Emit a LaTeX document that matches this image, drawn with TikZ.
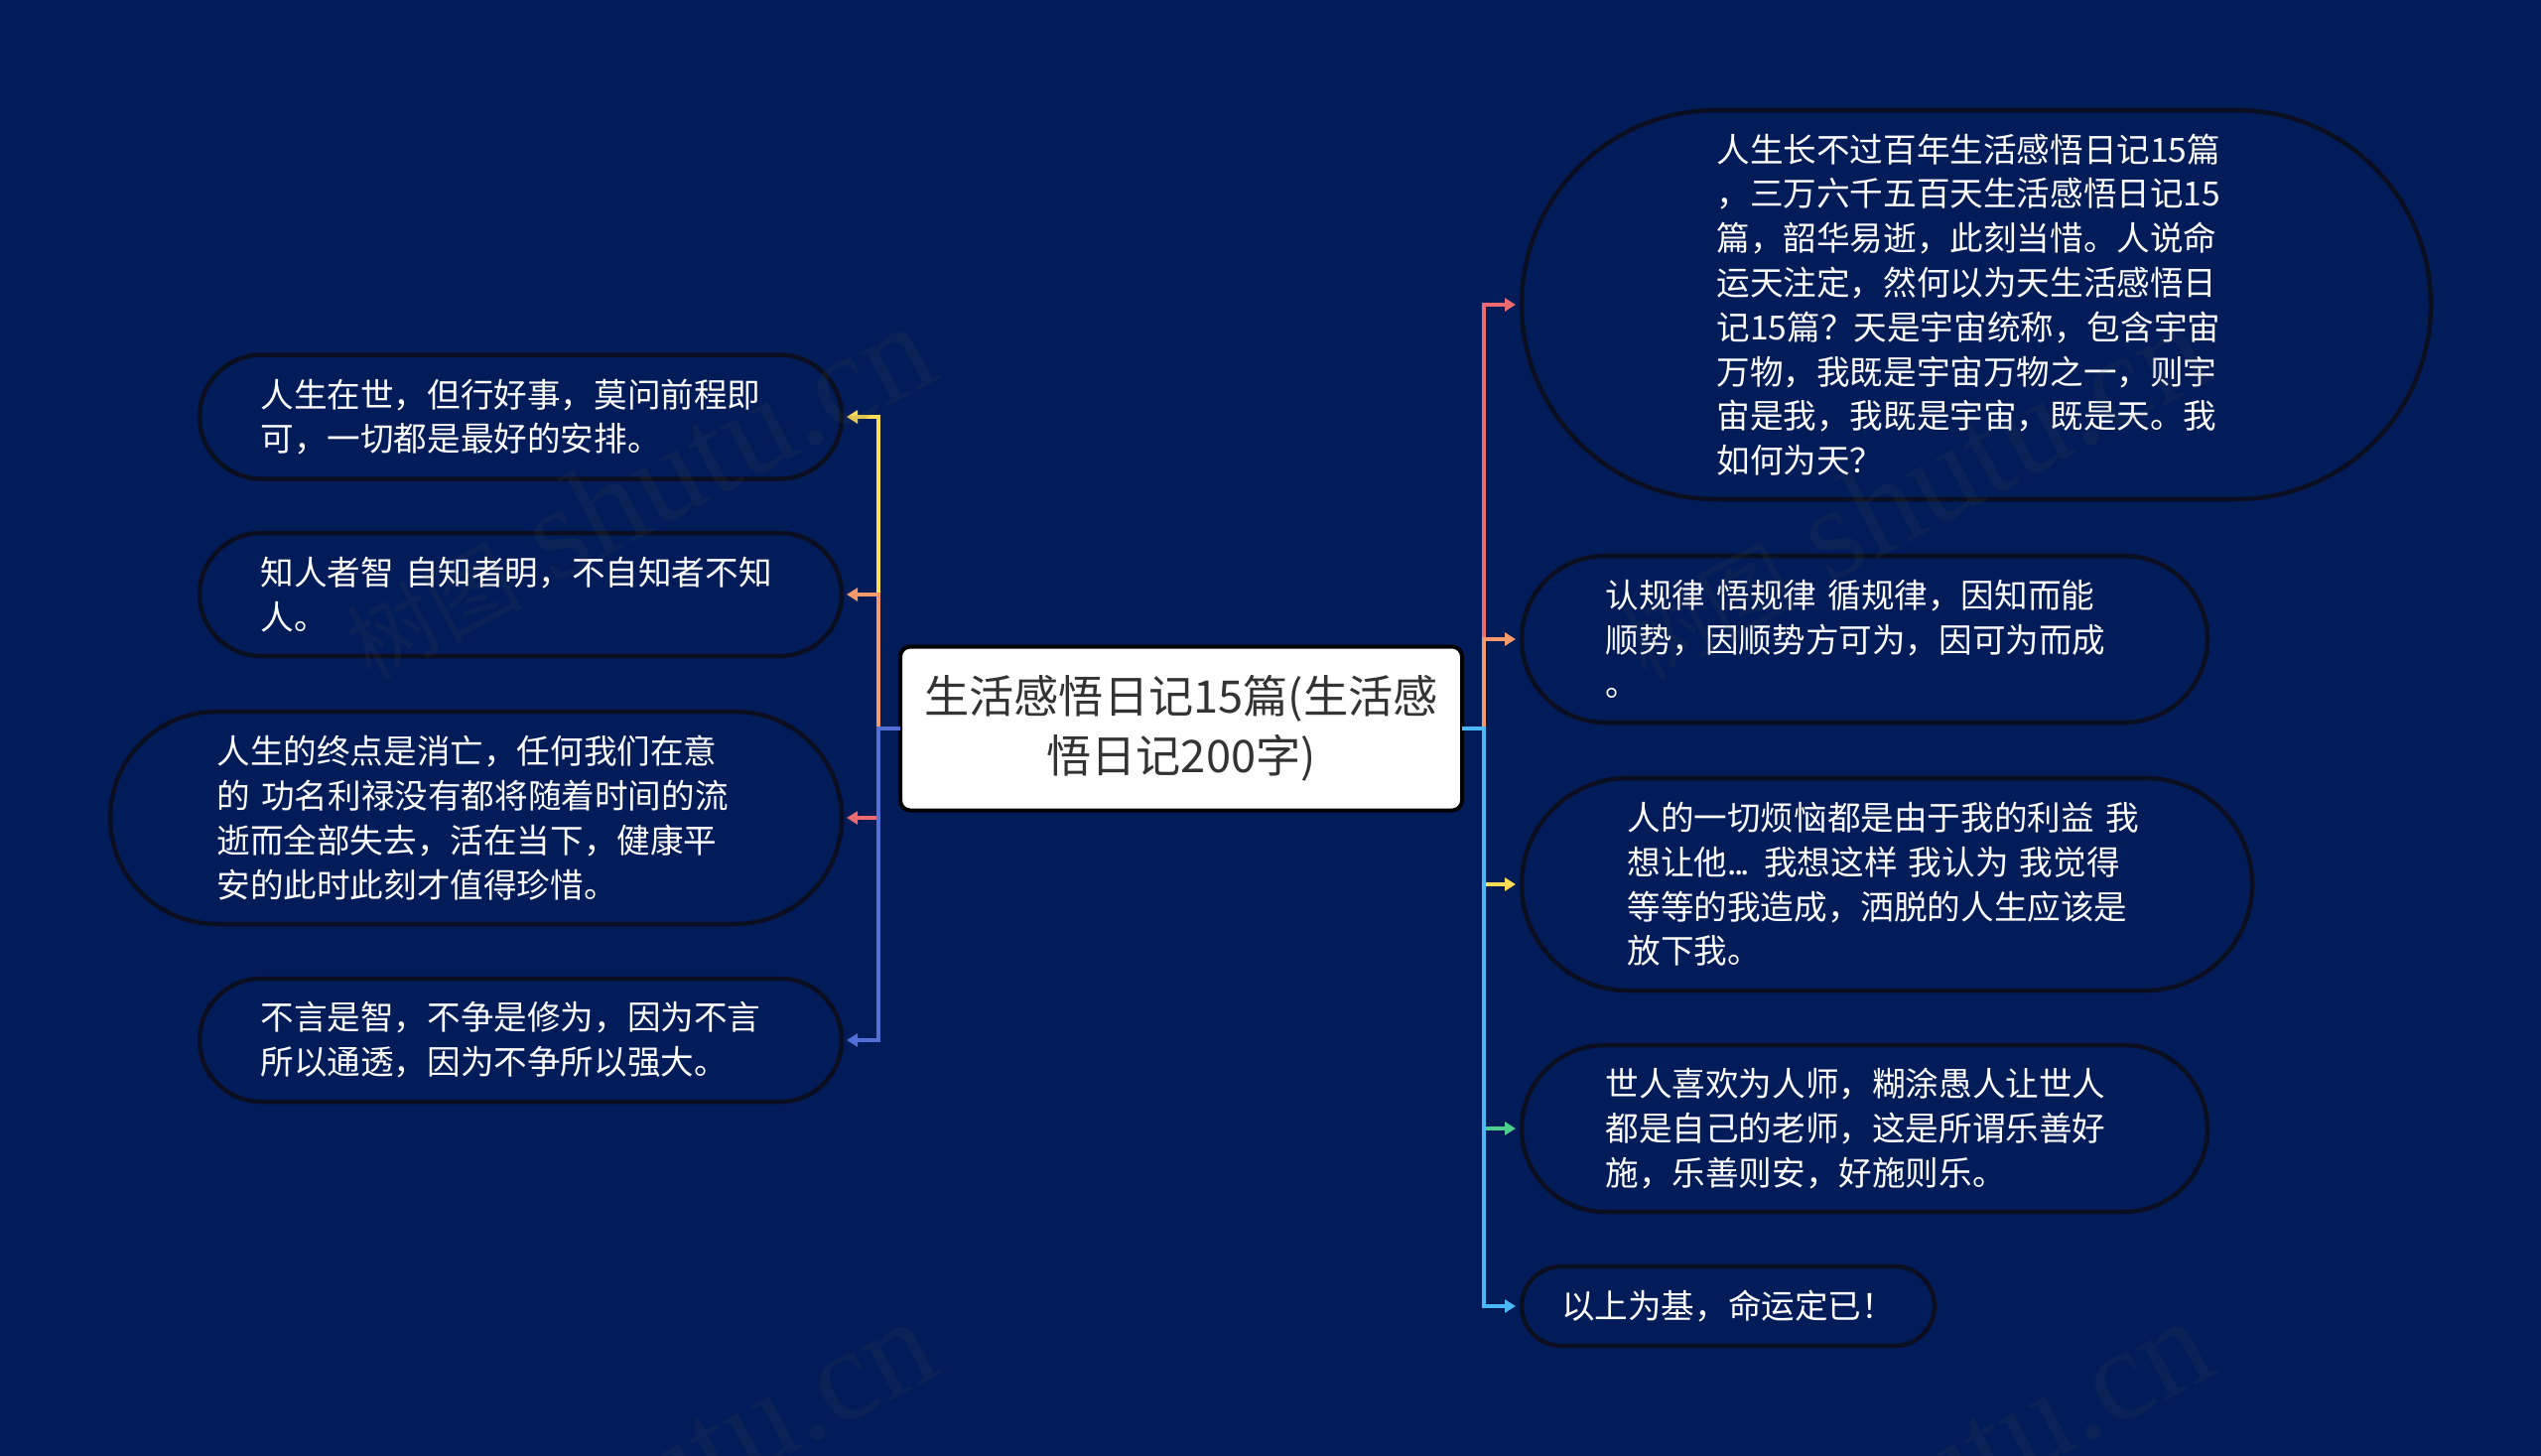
\documentclass[tikz,border=0pt]{standalone}
\usepackage{fontspec}
\setmainfont{Noto Sans CJK SC}
\newfontfamily\wmlatin{Liberation Serif}
\usetikzlibrary{arrows.meta}
\definecolor{bgc}{HTML}{011C59}
\definecolor{edgec}{HTML}{0A0E20}
\definecolor{cpink}{HTML}{EE6A72}
\definecolor{corange}{HTML}{F79A6B}
\definecolor{cyellow}{HTML}{FFDD55}
\definecolor{cgreen}{HTML}{4CD08D}
\definecolor{csky}{HTML}{4AB8F5}
\definecolor{cblue}{HTML}{5470D6}
\newcommand{\wmtext}{{\fontsize{44pt}{44pt}\selectfont 树图}{\wmlatin\fontsize{66pt}{66pt}\selectfont\ shutu.cn}}
\tikzset{
  x=0.5pt,y=-0.5pt,
  pill/.style n args={3}{draw=edgec,line width=2.25pt,fill=bgc,text=white,inner sep=0pt,outer sep=0pt,
    minimum width=#1*0.5pt,minimum height=#2*0.5pt,rounded corners=#2*0.25pt,
    text width=(#1-2*#3)*0.5pt,align=left,font=\fontsize{16.8pt}{22.4pt}\selectfont},
  rootbox/.style={draw=black,line width=2pt,fill=white,text=black!80,inner sep=0pt,outer sep=0pt,
    minimum width=566*0.5pt,minimum height=165*0.5pt,rounded corners=5pt,
    align=center,font=\fontsize{22.6pt}{29.8pt}\selectfont},
  conn/.style={line width=1.9pt,draw=#1,-{Triangle[length=5.5pt,width=6.5pt,fill=#1]}},
  lconn/.style={conn=#1,shorten >=2.5pt},
  rconn/.style={conn=#1,shorten >=3pt},
  wmark/.style={text=black!72,opacity=0.15,rotate=28,anchor=base east,inner sep=0pt},
}
\begin{document}
\begin{tikzpicture}
\useasboundingbox (0,0) rectangle (2560,1467);
\fill[bgc] (0,0) rectangle (2560,1467);
\node[rootbox] (C) at (1190,734) {生活感悟日记15篇(生活感\\悟日记200字)};
\node[pill={647}{125}{61.5}] (L1) at (524.5,420) {人生在世，但行好事，莫问前程即\\可，一切都是最好的安排。};
\node[pill={647}{124}{61.5}] (L2) at (524.5,599) {知人者智 自知者明，不自知者不知\\人。};
\node[pill={737}{214}{107.5}] (L3) at (479.5,824) {人生的终点是消亡，任何我们在意\\的 功名利禄没有都将随着时间的流\\逝而全部失去，活在当下，健康平\\安的此时此刻才值得珍惜。};
\node[pill={647}{124}{61.5}] (L4) at (524.5,1048) {不言是智，不争是修为，因为不言\\所以通透，因为不争所以强大。};
\node[pill={916}{392}{196.5}] (R1) at (1991,307) {人生长不过百年生活感悟日记15篇\\，三万六千五百天生活感悟日记15\\篇，韶华易逝，此刻当惜。人说命\\运天注定，然何以为天生活感悟日\\记15篇？天是宇宙统称，包含宇宙\\万物，我既是宇宙万物之一，则宇\\宙是我，我既是宇宙，既是天。我\\如何为天？};
\node[pill={691}{168}{84.5}] (R2) at (1878.5,644) {认规律 悟规律 循规律，因知而能\\顺势，因顺势方可为，因可为而成\\。};
\node[pill={736}{214}{106.5}] (R3) at (1901,891) {人的一切烦恼都是由于我的利益 我\\想让他.\kern-1.3pt.\kern-1.3pt.\kern-1.3pt{} 我想这样 我认为 我觉得\\等等的我造成，洒脱的人生应该是\\放下我。};
\node[pill={691}{168}{84.5}] (R4) at (1878.5,1137) {世人喜欢为人师，糊涂愚人让世人\\都是自己的老师，这是所谓乐善好\\施，乐善则安，好施则乐。};
\node[pill={416}{80}{40}] (R5) at (1741,1316) {以上为基，命运定已！};
\coordinate (LT) at (885,734);
\coordinate (RT) at (1495,734);
\draw[lconn=cyellow] (C.west) -- (LT) |- (L1.east);
\draw[lconn=corange] (C.west) -- (LT) |- (L2.east);
\draw[lconn=cpink] (C.west) -- (LT) |- (L3.east);
\draw[lconn=cblue] (C.west) -- (LT) |- (L4.east);
\draw[rconn=cpink] (C.east) -- (RT) |- (R1.west);
\draw[rconn=corange] (C.east) -- (RT) |- (R2.west);
\draw[rconn=cyellow] (C.east) -- (RT) |- (R3.west);
\draw[rconn=cgreen] (C.east) -- (RT) |- (R4.west);
\draw[rconn=csky] (C.east) -- (RT) |- (R5.west);
\node[wmark] (W1) at (950,380) {\wmtext};
\node[wmark] (W2) at (2235,380) {\wmtext};
\node[wmark] (W3) at (952,1382) {\wmtext};
\node[wmark] (W4) at (2237,1382) {\wmtext};
\end{tikzpicture}
\end{document}
